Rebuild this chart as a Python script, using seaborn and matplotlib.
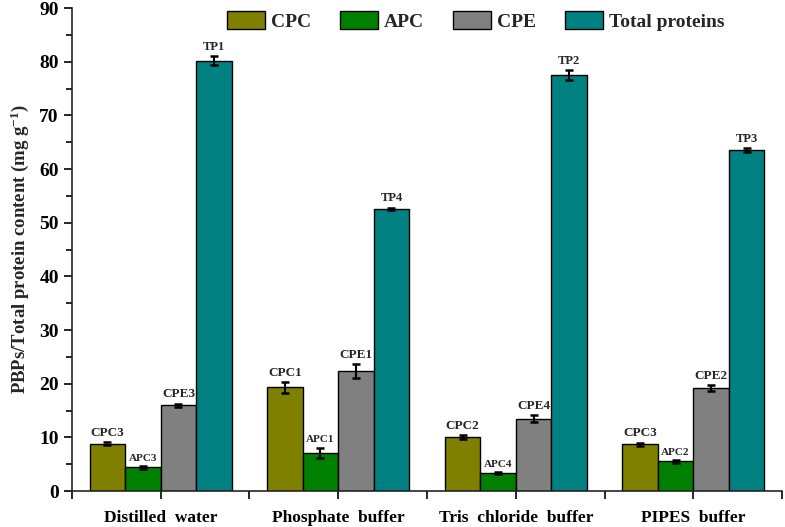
import pandas as pd
import matplotlib.pyplot as plt
from matplotlib.ticker import MultipleLocator, FixedLocator
from matplotlib.font_manager import FontProperties
import seaborn as sns

# data
buffers = ['Distilled  water', 'Phosphate  buffer', 'Tris  chloride  buffer', 'PIPES  buffer']
components = ['CPC', 'APC', 'CPE', 'Total proteins']
cpc = [8.8, 19.3, 10.0, 8.7]
apc = [4.4, 7.1, 3.3, 5.5]
cpe = [16.0, 22.4, 13.5, 19.2]
tp = [80.2, 52.6, 77.5, 63.5]
cpc_err = [0.3, 1.0, 0.4, 0.3]
apc_err = [0.3, 1.0, 0.2, 0.2]
cpe_err = [0.3, 1.3, 0.7, 0.5]
tp_err = [0.9, 0.2, 0.9, 0.4]
cpc_lab = ['CPC3', 'CPC1', 'CPC2', 'CPC3']
apc_lab = ['APC3', 'APC1', 'APC4', 'APC2']
cpe_lab = ['CPE3', 'CPE1', 'CPE4', 'CPE2']
tp_lab = ['TP1', 'TP4', 'TP2', 'TP3']

colors = ['#808000', '#008000', '#808080', '#008080']
label_sizes = [9.5, 8, 9.5, 9]

values = [cpc, apc, cpe, tp]
errors = [cpc_err, apc_err, cpe_err, tp_err]
labels = [cpc_lab, apc_lab, cpe_lab, tp_lab]

rows = []
for comp, vals in zip(components, values):
    for b, v in zip(buffers, vals):
        rows.append({'Buffer': b, 'Component': comp, 'Value': v})
df = pd.DataFrame(rows)

sns.set_style('ticks')
plt.rcParams['font.family'] = ['Liberation Serif', 'DejaVu Serif']
plt.rcParams['font.weight'] = 'bold'
plt.rcParams['mathtext.fontset'] = 'custom'
plt.rcParams['mathtext.rm'] = 'Liberation Serif:bold'
plt.rcParams['mathtext.default'] = 'rm'

fig = plt.figure(figsize=(7.85, 5.27), dpi=100)
ax = fig.add_axes([0.0917, 0.0683, 0.9045, 0.9165])

sns.barplot(data=df, x='Buffer', y='Value', hue='Component', order=buffers,
            hue_order=components, palette=colors, errorbar=None,
            edgecolor='black', linewidth=1.0, saturation=1, width=0.8, ax=ax)

# error bars and labels on top of each bar
for cont, errs, labs, fs in zip(ax.containers, errors, labels, label_sizes):
    for bar, e, lab in zip(cont, errs, labs):
        xc = bar.get_x() + bar.get_width() / 2
        h = bar.get_height()
        ax.errorbar(xc, h, yerr=e, fmt='none', ecolor='black', elinewidth=1.5,
                    capsize=3, capthick=1.8)
        ax.text(xc, h + e + 0.6, lab, ha='center', va='bottom',
                fontsize=fs, fontweight='bold')

ax.set_xlim(-0.5, 3.5)
ax.set_ylim(0, 90)
ax.yaxis.set_major_locator(MultipleLocator(10))
ax.yaxis.set_minor_locator(MultipleLocator(5))
ax.xaxis.set_minor_locator(FixedLocator([-0.5, 0.5, 1.5, 2.5, 3.5]))
ax.tick_params(axis='both', which='both', direction='out', width=1.2, colors='black')
ax.tick_params(axis='y', which='major', length=6, labelsize=14)
ax.tick_params(axis='y', which='minor', length=4)
ax.tick_params(axis='x', which='both', length=6, labelsize=12.5, pad=8)
for lbl in ax.get_xticklabels() + ax.get_yticklabels():
    lbl.set_fontweight('bold')

sns.despine(ax=ax)
ax.spines['left'].set_linewidth(1.2)
ax.spines['bottom'].set_linewidth(1.2)

ax.set_xlabel('')
ax.set_ylabel('PBPs/Total protein content (mg g$^{-1}$)', fontsize=13.5,
              fontweight='bold', labelpad=6)

ax.get_legend().remove()
handles = [plt.Rectangle((0, 0), 1, 1, facecolor=c, edgecolor='black', linewidth=1.0)
           for c in colors]
leg_font = FontProperties(family='Liberation Serif', weight='bold', size=14)
fig.legend(handles, components, loc='upper left', bbox_to_anchor=(0.267, 1.012),
           ncol=4, frameon=False, handlelength=1.95, handleheight=1.05,
           columnspacing=1.5, handletextpad=0.3, prop=leg_font)

plt.savefig('out.png', dpi=100)
